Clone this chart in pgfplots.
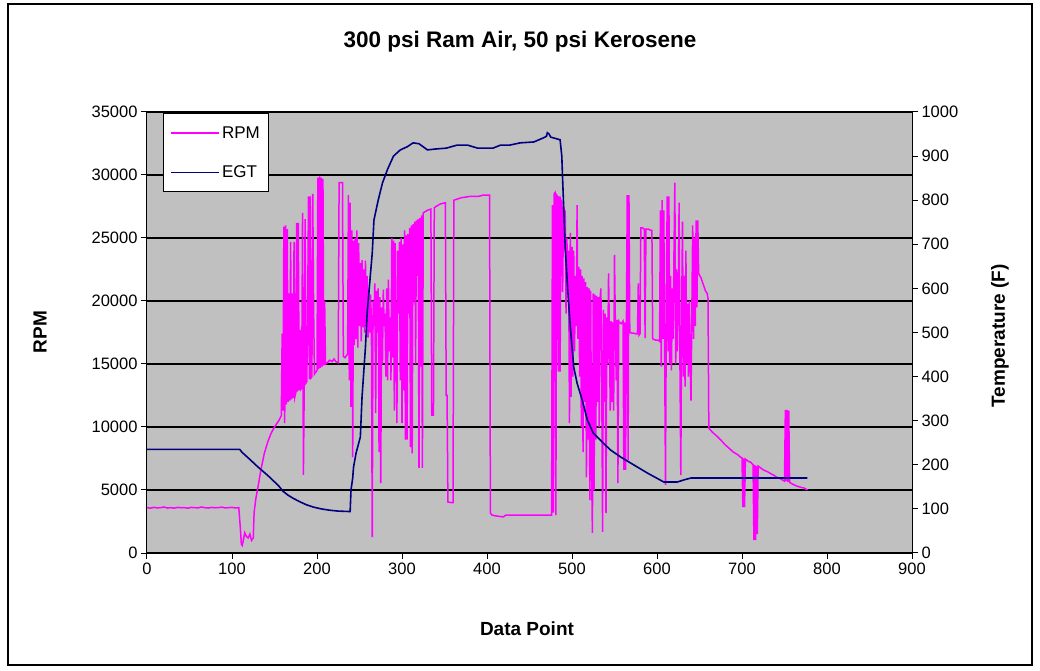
\documentclass[border=0pt]{standalone}
\usepackage{fontspec}
\setmainfont{Liberation Sans}
\usepackage{pgfplots}
\usepackage{pgfplotstable}
\pgfplotsset{compat=1.18}
\definecolor{rpmcol}{RGB}{255,0,255}
\definecolor{egtcol}{RGB}{0,0,128}
\definecolor{plotbg}{RGB}{192,192,192}

% Engine speed (RPM) against data point index
\pgfplotstableread[row sep=\\]{
x y\\
0 3600\\ 4 3560\\ 8 3620\\ 12 3580\\ 16 3600\\ 20 3650\\ 24 3570\\ 28 3600\\
32 3560\\ 36 3620\\ 40 3590\\ 44 3600\\ 48 3560\\ 52 3620\\ 56 3600\\ 60 3580\\
64 3650\\ 68 3600\\ 72 3570\\ 76 3620\\ 80 3590\\ 84 3600\\ 88 3640\\ 92 3580\\
96 3600\\ 100 3620\\ 104 3580\\ 108 3600\\ 110 1800\\ 111 700\\ 112 600\\ 113 900\\
115 1600\\ 117 1300\\ 119 1200\\ 121 1500\\ 123 1000\\ 125 1200\\ 126 3200\\ 128 4300\\
131 5400\\ 134 6600\\ 138 7900\\ 142 8800\\ 146 9500\\ 150 10000\\ 155 10500\\ 158 10900\\
159 17400\\ 160 11300\\ 161 25900\\ 162 10300\\ 163 26000\\ 164 11800\\ 165 25700\\ 166 12000\\
167 20600\\ 168 12100\\ 169 24700\\ 170 12200\\ 171 20600\\ 172 12300\\ 173 24700\\ 174 12400\\
175 12700\\ 176 26200\\ 177 12800\\ 178 26200\\ 179 12900\\ 180 17700\\ 181 13000\\ 182 13100\\
183 27000\\ 184 6200\\ 185 13400\\ 186 26500\\ 187 13500\\ 188 13600\\ 189 19000\\ 190 28300\\
191 13800\\ 192 28300\\ 193 13900\\ 194 14000\\ 195 28500\\ 196 19500\\ 197 14200\\ 198 14300\\
199 14400\\ 200 14500\\ 201 29800\\ 202 14600\\ 203 29900\\ 204 14700\\ 205 29800\\ 206 14800\\
207 29700\\ 208 14900\\ 209 20000\\ 210 15000\\ 212 15100\\ 215 15300\\ 218 15200\\ 220 15400\\
222 15200\\ 225 15100\\ 226 29400\\ 230 29400\\ 231 15600\\ 233 15500\\ 235 15700\\ 236 15800\\
237 28400\\ 238 13700\\ 239 27800\\ 240 11600\\ 241 25600\\ 242 7600\\ 243 24800\\ 244 16500\\
245 25000\\ 246 17000\\ 247 25600\\ 248 16300\\ 249 24600\\ 250 18000\\ 251 23000\\ 252 16800\\
253 23250\\ 254 17900\\ 255 22500\\ 256 17500\\ 257 23200\\ 258 18000\\ 259 22000\\ 260 17100\\
261 20900\\ 262 17500\\ 263 20500\\ 264 18500\\ 265 1270\\ 266 20000\\ 267 18000\\ 268 21400\\
269 11100\\ 270 20800\\ 271 17500\\ 272 21000\\ 273 8000\\ 274 20300\\ 275 5550\\ 276 19500\\
277 15000\\ 278 20900\\ 279 18000\\ 280 19000\\ 281 14000\\ 282 21000\\ 283 13700\\ 284 21700\\
285 16000\\ 286 18700\\ 287 13700\\ 288 25000\\ 289 15500\\ 290 24800\\ 291 11300\\ 292 24600\\
293 17000\\ 294 10300\\ 295 24000\\ 296 19000\\ 297 24700\\ 298 13700\\ 299 25000\\ 300 10300\\
301 24500\\ 302 12900\\ 303 25600\\ 304 9000\\ 305 25200\\ 306 9000\\ 307 25300\\ 308 19000\\
309 25800\\ 310 8400\\ 311 26000\\ 312 7900\\ 313 26100\\ 314 20000\\ 315 26300\\ 316 15000\\
317 26400\\ 318 22000\\ 319 26500\\ 320 6750\\ 321 26600\\ 322 14800\\ 323 26800\\ 324 6750\\
325 27000\\ 330 27200\\ 334 27300\\ 335 10950\\ 337 10950\\ 338 27400\\ 340 27500\\ 345 27700\\
351 27800\\ 352 12500\\ 353 12500\\ 354 4050\\ 358 4000\\ 360 4000\\ 361 28000\\ 370 28200\\
380 28300\\ 390 28300\\ 395 28400\\ 403 28400\\ 404 3170\\ 406 3000\\ 410 2950\\ 415 2900\\
419 2860\\ 422 3000\\ 440 3000\\ 460 3000\\ 476 3000\\ 477 27600\\ 478 3200\\ 479 28500\\
480 28600\\ 481 3000\\ 482 28400\\ 483 28300\\ 484 14400\\ 485 28300\\ 486 14400\\ 487 28000\\
488 27800\\ 489 20700\\ 490 27500\\ 491 24000\\ 492 27200\\ 493 19000\\ 494 25000\\ 495 21000\\
496 24000\\ 497 10300\\ 498 25400\\ 499 12400\\ 500 24300\\ 501 14000\\ 502 24000\\ 503 16000\\
504 22000\\ 505 18000\\ 506 27600\\ 507 17000\\ 508 22700\\ 509 14000\\ 510 22500\\ 511 10000\\
512 22000\\ 513 8000\\ 514 21800\\ 515 12000\\ 516 21500\\ 517 6000\\ 518 21100\\ 519 9000\\
520 21000\\ 521 4200\\ 522 20800\\ 523 7000\\ 524 1590\\ 525 20600\\ 526 5000\\ 527 20500\\
528 9000\\ 529 20400\\ 530 12000\\ 531 20300\\ 532 10000\\ 533 20200\\ 534 21000\\ 535 14000\\
536 1670\\ 537 19300\\ 538 12000\\ 539 19000\\ 540 3170\\ 541 18700\\ 542 15000\\ 543 22200\\
544 17500\\ 545 11300\\ 546 18400\\ 547 12000\\ 548 18300\\ 549 11300\\ 550 23650\\ 551 18250\\
552 13700\\ 553 18500\\ 554 5550\\ 555 18400\\ 556 18300\\ 558 18200\\ 560 18400\\ 561 6590\\
562 18300\\ 563 6590\\ 564 18000\\ 565 28400\\ 566 7380\\ 567 28400\\ 568 17500\\ 570 17460\\
572 17460\\ 575 17400\\ 577 17400\\ 578 21400\\ 579 17300\\ 580 17400\\ 581 25800\\ 583 25800\\
585 25700\\ 586 17060\\ 587 25700\\ 590 25700\\ 593 25600\\ 594 25600\\ 595 17000\\ 598 16900\\
601 16900\\ 603 16800\\ 604 27200\\ 605 14800\\ 606 28000\\ 607 17000\\ 608 27200\\ 609 16000\\
610 5400\\ 611 20000\\ 612 28300\\ 613 16000\\ 614 28300\\ 615 15000\\ 616 22000\\ 617 14500\\
618 21000\\ 619 17000\\ 620 24000\\ 621 29400\\ 622 15000\\ 623 22500\\ 624 16000\\ 625 20000\\
626 27800\\ 627 15000\\ 628 6190\\ 629 19000\\ 630 26300\\ 631 14000\\ 632 22000\\ 633 13200\\
634 24000\\ 635 15000\\ 636 19800\\ 637 14000\\ 638 20000\\ 639 15000\\ 640 12100\\ 641 19000\\
642 26000\\ 643 17000\\ 644 25000\\ 645 18000\\ 646 26400\\ 647 19500\\ 648 26400\\ 649 22200\\
652 21800\\ 655 21200\\ 657 20800\\ 659 20600\\ 660 20200\\ 661 9900\\ 665 9600\\ 670 9300\\
675 8970\\ 680 8600\\ 685 8300\\ 690 8000\\ 695 7800\\ 698 7620\\ 700 7550\\ 701 3650\\
702 7500\\ 703 3650\\ 704 7450\\ 705 7400\\ 708 7250\\ 710 7220\\ 713 7000\\ 714 1030\\
715 7000\\ 716 1030\\ 717 6900\\ 718 1500\\ 719 6900\\ 720 6850\\ 722 6750\\ 725 6600\\
730 6450\\ 735 6250\\ 737 6190\\ 740 6050\\ 745 5900\\ 750 5700\\ 751 11350\\ 752 5700\\
753 11350\\ 754 5650\\ 755 11300\\ 756 5600\\ 760 5450\\ 765 5300\\ 770 5200\\ 773 5160\\
777 5000\\
}\rpmdata

% Exhaust gas temperature (F) against data point index
\pgfplotstableread[row sep=\\]{
x y\\
0 235\\ 109 235\\ 112 228\\ 116 221\\ 120 214\\ 125 205\\ 130 196\\ 136 186\\
142 176\\ 148 165\\ 155 152\\ 160 140\\ 166 131\\ 172 124\\ 180 116\\ 188 109\\
196 104\\ 205 100\\ 215 97\\ 225 95\\ 239 94\\ 240 143\\ 242 170\\ 243 195\\
246 227\\ 251 263\\ 253 354\\ 257 467\\ 259 544\\ 263 635\\ 265 680\\ 267 755\\
272 800\\ 277 839\\ 283 870\\ 290 900\\ 298 914\\ 306 921\\ 313 930\\ 320 928\\
330 914\\ 339 916\\ 352 918\\ 365 925\\ 377 925\\ 389 918\\ 407 918\\ 416 925\\
427 925\\ 439 930\\ 455 932\\ 466 941\\ 470 945\\ 471 953\\ 473 950\\ 475 943\\
486 937\\ 488 900\\ 489 846\\ 492 694\\ 495 596\\ 498 513\\ 502 422\\ 506 385\\
512 347\\ 518 302\\ 525 272\\ 537 249\\ 545 234\\ 557 218\\ 569 204\\ 589 181\\
608 161\\ 624 161\\ 632 166\\ 640 170\\ 700 170\\ 777 170\\
}\egtdata

\begin{document}
\begin{tikzpicture}
\path[use as bounding box] (-147pt,-118pt) rectangle (893pt,553pt);
\draw[line width=1.5pt] (-139pt,-112pt) rectangle (885pt,549pt);

\begin{axis}[
  at={(0pt,0pt)}, anchor=south west,
  scale only axis, width=765pt, height=441pt,
  xmin=0, xmax=900, ymin=0, ymax=35000,
  xtick={0,100,...,900}, ytick={0,5000,...,35000},
  xtick pos=bottom, ytick pos=left, tick align=outside,
  major tick length=6pt,
  tick style={black, line width=1pt},
  ymajorgrids, major grid style={black, line width=1.2pt},
  axis background/.style={fill=plotbg},
  axis line style={black, line width=1pt},
  scaled ticks=false,
  /pgf/number format/assume math mode=true,
  /pgf/number format/set thousands separator={},
  ticklabel style={font=\fontsize{16.5}{18}\selectfont},
]
\addplot[rpmcol, line width=1.5pt] table[x=x, y=y] {\rpmdata};
\end{axis}

\begin{axis}[
  at={(0pt,0pt)}, anchor=south west,
  scale only axis, width=765pt, height=441pt,
  xmin=0, xmax=900, ymin=0, ymax=1000,
  hide x axis,
  axis y line*=right,
  ytick={0,100,...,1000},
  tick align=outside, major tick length=6pt,
  tick style={black, line width=1pt},
  axis line style={black, line width=1pt},
  /pgf/number format/assume math mode=true,
  /pgf/number format/set thousands separator={},
  ticklabel style={font=\fontsize{16.5}{18}\selectfont},
  legend style={at={(rel axis cs:0.021,0.998)}, anchor=north west,
    draw=black, line width=1pt, fill=white,
    font=\fontsize{17}{18}\selectfont,
    inner xsep=7pt, inner ysep=11pt, row sep=22pt},
  legend cell align=left,
  legend image code/.code={\draw[#1, line width=1.5pt] (0pt,0pt) -- (48pt,0pt);},
]
\addlegendimage{rpmcol}
\addlegendentry{RPM}
\addplot[egtcol, line width=1.6pt] table[x=x, y=y] {\egtdata};
\addlegendentry{EGT}
\end{axis}

\node[font=\bfseries\fontsize{22.5}{24}\selectfont] at (373pt,511pt) {300 psi Ram Air, 50 psi Kerosene};
\node[rotate=90, font=\bfseries\fontsize{19}{20}\selectfont] at (-107pt,221pt) {RPM};
\node[rotate=90, font=\bfseries\fontsize{19}{20}\selectfont] at (853pt,217pt) {Temperature (F)};
\node[font=\bfseries\fontsize{19}{20}\selectfont] at (380pt,-76pt) {Data Point};
\end{tikzpicture}
\end{document}
